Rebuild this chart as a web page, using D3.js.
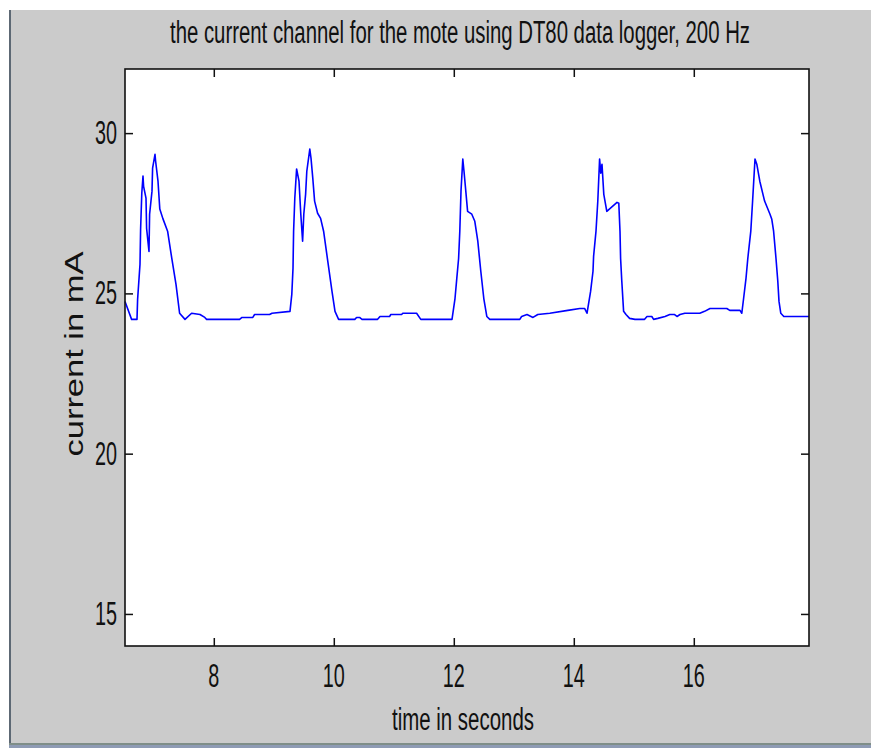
<!DOCTYPE html>
<html><head><meta charset="utf-8">
<script src="https://cdn.jsdelivr.net/npm/d3@7"></script>
<style>html,body{margin:0;padding:0;background:#fff;}svg{display:block;}text{font-family:"Liberation Sans",Arial,sans-serif;fill:#111;}</style>
</head><body>
<script>
const title = "the current channel for the mote using DT80 data logger, 200 Hz";
const xLabel = "time in seconds";
const yLabel = "current in mA";
const xTicks = [8, 10, 12, 14, 16];
const yTicks = [15, 20, 25, 30];
const xDomain = [6.52, 17.92];
const yDomain = [14, 32];
const time = [6.52,6.63,6.72,6.73,6.77,6.78,6.80,6.82,6.83,6.87,6.88,6.92,6.93,6.97,6.98,7.02,7.03,7.07,7.10,7.15,7.23,7.30,7.37,7.43,7.52,7.63,7.77,7.85,7.88,8.43,8.47,8.65,8.68,8.93,8.97,9.27,
9.30,9.32,9.33,9.35,9.38,9.42,9.45,9.48,9.50,9.53,9.55,9.60,9.62,9.65,9.68,9.73,9.78,9.83,9.90,9.97,10.02,10.08,10.35,10.38,10.43,10.47,10.73,10.77,10.93,10.95,11.13,11.15,11.38,11.45,11.97,
12.02,12.05,12.08,12.10,12.12,12.15,12.17,12.20,12.23,12.30,12.35,12.40,12.45,12.50,12.55,12.60,13.10,13.13,13.22,13.32,13.40,13.60,13.90,14.10,14.18,14.22,
14.28,14.32,14.33,14.37,14.40,14.43,14.45,14.47,14.50,14.55,14.63,14.72,14.75,14.77,14.78,14.80,14.83,14.87,14.93,15.02,15.18,15.22,15.30,15.33,15.40,15.52,15.60,15.68,15.72,15.77,15.85,16.10,16.18,16.27,16.55,16.60,16.77,16.80,
16.83,16.87,16.90,16.95,16.98,17.02,17.05,17.10,17.18,17.27,17.30,17.33,17.37,17.40,17.42,17.45,17.50,17.92];
const current = [24.75,24.19,24.19,24.81,25.91,27.0,28.13,28.66,28.34,27.97,27.03,26.31,27.47,28.19,28.91,29.34,29.13,28.5,27.63,27.34,26.94,26.09,25.28,24.38,24.19,24.38,24.34,24.25,24.19,24.19,24.25,24.25,24.34,24.34,24.38,24.44,
24.97,25.78,26.94,27.97,28.88,28.5,27.47,26.63,27.47,28.09,28.81,29.5,29.22,28.59,27.88,27.5,27.34,26.94,26.0,25.06,24.44,24.19,24.19,24.25,24.25,24.19,24.19,24.28,24.28,24.34,24.34,24.38,24.38,24.19,24.19,
24.84,25.47,26.09,26.94,28.19,29.19,28.81,28.19,27.56,27.47,27.25,26.63,25.69,24.84,24.28,24.19,24.19,24.28,24.34,24.25,24.34,24.38,24.47,24.53,24.53,24.38,
25.06,25.69,26.16,26.94,27.88,29.19,28.75,29.03,28.09,27.56,27.69,27.84,27.81,26.94,26.09,25.38,24.44,24.34,24.22,24.19,24.19,24.28,24.28,24.19,24.22,24.28,24.34,24.34,24.28,24.34,24.38,24.38,24.44,24.53,24.53,24.47,24.47,24.38,
24.84,25.47,26.09,26.94,27.88,29.19,29.03,28.5,27.88,27.47,27.31,26.94,26.09,25.38,24.75,24.38,24.28,24.28];

const W = 871, H = 748;
const svg = d3.select("body").append("svg").attr("width", W).attr("height", H);
// figure background & window edges
svg.append("rect").attr("x",0).attr("y",0).attr("width",W).attr("height",H).attr("fill","#fff");
svg.append("rect").attr("x",9).attr("y",10).attr("width",W-9).attr("height",H-10).attr("fill","#cbcbcb");
svg.append("rect").attr("x",9).attr("y",10).attr("width",2).attr("height",H-10).attr("fill","#5d6874");
svg.append("rect").attr("x",9).attr("y",743).attr("width",W-9).attr("height",2).attr("fill","#7f8e88");
svg.append("rect").attr("x",9).attr("y",745).attr("width",W-9).attr("height",3).attr("fill","#8e9bb4");

const m = {l:125, r:809, t:69, b:646};
const x = d3.scaleLinear().domain(xDomain).range([m.l, m.r]);
const y = d3.scaleLinear().domain(yDomain).range([m.b, m.t]);

svg.append("rect").attr("x",m.l).attr("y",m.t).attr("width",m.r-m.l).attr("height",m.b-m.t).attr("fill","#fff");

const line = d3.line().x((d,i)=>x(time[i])).y((d,i)=>y(current[i]));
svg.append("path").datum(current).attr("d", line).attr("fill","none").attr("stroke","#0000ff").attr("stroke-width",1.6).attr("stroke-linejoin","round");

const tl = 8;
const axB = svg.append("g").attr("transform",`translate(0,${m.b})`).call(d3.axisBottom(x).tickValues(xTicks).tickSizeInner(-tl).tickSizeOuter(0).tickFormat(""));
const axT = svg.append("g").attr("transform",`translate(0,${m.t})`).call(d3.axisTop(x).tickValues(xTicks).tickSizeInner(-tl).tickSizeOuter(0).tickFormat(""));
const axL = svg.append("g").attr("transform",`translate(${m.l},0)`).call(d3.axisLeft(y).tickValues(yTicks).tickSizeInner(-tl).tickSizeOuter(0).tickFormat(""));
const axR = svg.append("g").attr("transform",`translate(${m.r},0)`).call(d3.axisRight(y).tickValues(yTicks).tickSizeInner(-tl).tickSizeOuter(0).tickFormat(""));
[axB,axT,axL,axR].forEach(a=>{a.select(".domain").remove();a.selectAll("line").attr("stroke","#111").attr("stroke-width",1.5);});
svg.append("rect").attr("x",m.l).attr("y",m.t).attr("width",m.r-m.l).attr("height",m.b-m.t).attr("fill","none").attr("stroke","#111").attr("stroke-width",1.6);

// tick labels
svg.append("g").selectAll("text").data(xTicks).join("text")
  .attr("x", d=>x(d)).attr("y", 687).attr("text-anchor","middle").attr("font-size",33)
  .attr("textLength", d=>String(d).length*11).attr("lengthAdjust","spacingAndGlyphs").text(d=>d);
svg.append("g").selectAll("text").data(yTicks).join("text")
  .attr("x", 117).attr("y", d=>y(d)+11).attr("text-anchor","end").attr("font-size",33)
  .attr("textLength", d=>String(d).length*11).attr("lengthAdjust","spacingAndGlyphs").text(d=>d);

svg.append("text").attr("x",460).attr("y",43).attr("text-anchor","middle").attr("font-size",31)
  .attr("textLength",580).attr("lengthAdjust","spacingAndGlyphs").text(title);
svg.append("text").attr("x",463).attr("y",730).attr("text-anchor","middle").attr("font-size",31)
  .attr("textLength",142).attr("lengthAdjust","spacingAndGlyphs").text(xLabel);
svg.append("text").attr("transform","translate(83,354) rotate(-90)").attr("text-anchor","middle").attr("font-size",25)
  .attr("textLength",205).attr("lengthAdjust","spacingAndGlyphs").text(yLabel);
</script>
</body></html>
